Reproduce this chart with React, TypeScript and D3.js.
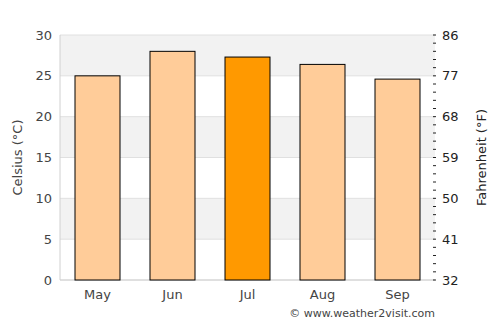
import React from "react";
import * as d3 from "d3";

const months = ["May", "Jun", "Jul", "Aug", "Sep"];
const celsius = [25, 28, 27.3, 26.4, 24.6];
const highlight = ["Jul"];
const leftTicks = [0, 5, 10, 15, 20, 25, 30];
const rightTicks = [32, 41, 50, 59, 68, 77, 86];

export default function App() {
  const W = 500, H = 325;
  const left = 60, right = 435, top = 35, bottom = 280;
  const x = d3.scaleBand().domain(months).range([left, right]).paddingInner(0.4).paddingOuter(0.2);
  const y = d3.scaleLinear().domain([0, 30]).range([bottom, top]);
  const yf = d3.scaleLinear().domain([32, 86]).range([bottom, top]);
  const minor = d3.range(0, 31, 1);
  const font = "DejaVu Sans, sans-serif";
  return (
    <svg width={W} height={H} style={{ position: "absolute", left: 0, top: 0 }}>
      <rect width={W} height={H} fill="#fff" />
      {leftTicks.slice(0, -1).map((t, i) => (
        <rect key={"b" + t} x={left} y={y(t + 5)} width={right - left} height={y(t) - y(t + 5)}
          fill={i % 2 === 1 ? "#f2f2f2" : "#fff"} />
      ))}
      {leftTicks.map((t) => (
        <line key={"g" + t} x1={left} x2={right} y1={y(t)} y2={y(t)} stroke="#e0e0e0" strokeWidth={1} />
      ))}
      <line x1={left} x2={left} y1={top} y2={bottom} stroke="#d0d0d0" />
      <line x1={left} x2={right} y1={bottom} y2={bottom} stroke="#d0d0d0" />
      {months.map((m, i) => (
        <rect key={m} x={x(m)} y={y(celsius[i])} width={x.bandwidth()} height={bottom - y(celsius[i])}
          fill={highlight.includes(m) ? "#ff9900" : "#ffcc99"} stroke="#000" strokeWidth={1} />
      ))}
      {leftTicks.map((t) => (
        <text key={"lt" + t} x={52} y={y(t)} dy="0.35em" textAnchor="end" fontFamily={font} fontSize={13} fill="#444">{t}</text>
      ))}
      {minor.map((c) => (
        <line key={"m" + c} x1={right - 2} x2={right + 1} y1={y(c)} y2={y(c)} stroke="#222" strokeWidth={1} />
      ))}
      {rightTicks.map((t) => (
        <text key={"rt" + t} x={442} y={yf(t)} dy="0.35em" textAnchor="start" fontFamily={font} fontSize={13} fill="#222">{t}</text>
      ))}
      {months.map((m) => (
        <text key={"x" + m} x={(x(m) as number) + x.bandwidth() / 2} y={299} textAnchor="middle" fontFamily={font} fontSize={13} fill="#444">{m}</text>
      ))}
      <text transform={`translate(22,${(top + bottom) / 2}) rotate(-90)`} textAnchor="middle" fontFamily={font} fontSize={13} fill="#444">Celsius (°C)</text>
      <text transform={`translate(486,${(top + bottom) / 2}) rotate(-90)`} textAnchor="middle" fontFamily={font} fontSize={13} fill="#222">Fahrenheit (°F)</text>
      <text x={435} y={317} textAnchor="end" fontFamily={font} fontSize={11} fill="#444">© www.weather2visit.com</text>
    </svg>
  );
}
